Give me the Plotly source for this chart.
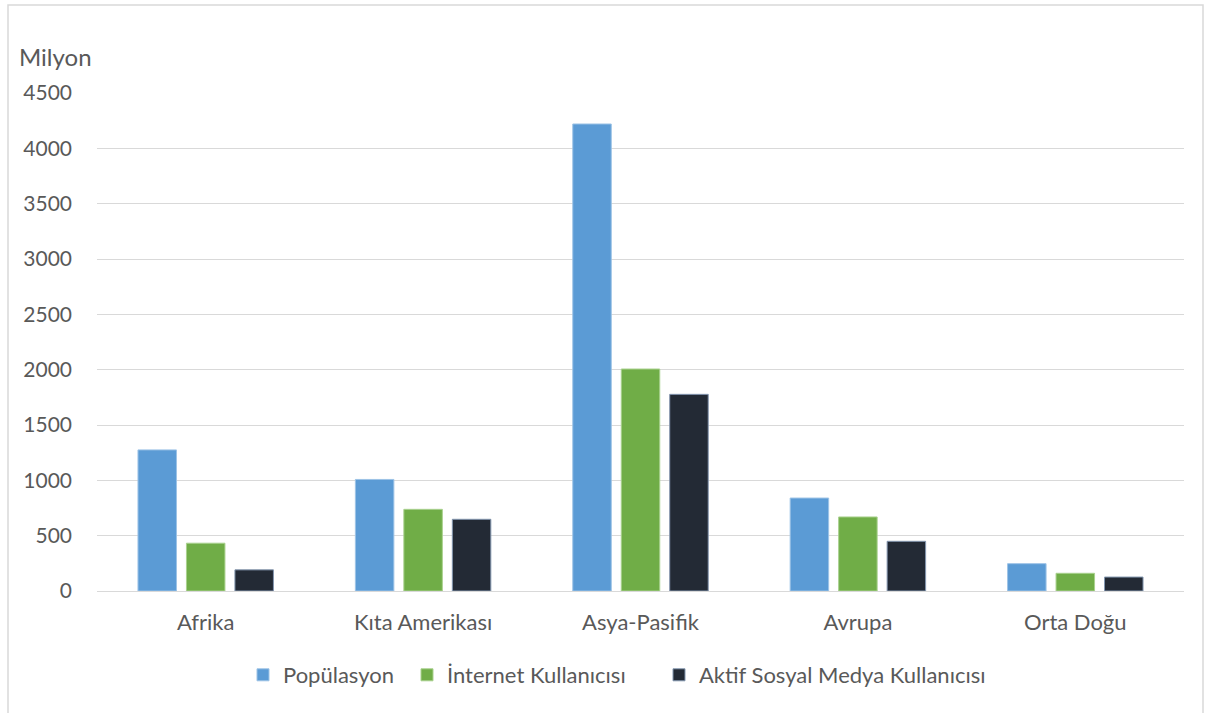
import plotly.graph_objects as go

# Bölgeler ve değerler (milyon kişi)
regions = ["Afrika", "Kıta Amerikası", "Asya-Pasifik", "Avrupa", "Orta Doğu"]
population = [1275, 1008, 4220, 840, 247]
internet_users = [432, 738, 2006, 669, 160]
social_media_users = [191, 648, 1777, 449, 126]

series_names = ["Popülasyon", "İnternet Kullanıcısı", "Aktif Sosyal Medya Kullanıcısı"]
y_ticks = [0, 500, 1000, 1500, 2000, 2500, 3000, 3500, 4000, 4500]

fill_colors = ["#5B9BD5", "#70AD47", "#232A35"]
edge_colors = ["#9DC3E6", "#A9D18E", "#8497B0"]

FONT = "Lato"
TEXT_COLOR = "#595959"

W, H = 1211, 713
L, R, T, B = 97, 27, 93, 122

pw = W - L - R
ph = H - T - B

def px_x(p):
    return (p - L) / pw

def px_y(p):
    return (H - B - p) / ph

# each series gets its own legend box so the entries can be spaced freely
legend_ids = ["legend", "legend2", "legend3"]
legend_left = [243, 407, 659]

fig = go.Figure()
for name, vals, fc, ec, lid in zip(series_names,
                                   [population, internet_users, social_media_users],
                                   fill_colors, edge_colors, legend_ids):
    fig.add_trace(go.Bar(
        x=regions, y=vals, name=name, legend=lid,
        marker=dict(color=fc, line=dict(color=ec, width=1)),
    ))

legend_layout = {}
for lid, lx in zip(legend_ids, legend_left):
    legend_layout[lid] = dict(
        orientation="h",
        x=px_x(lx), xanchor="left",
        y=px_y(675), yanchor="middle",
        font=dict(size=22, color=TEXT_COLOR),
        bgcolor="rgba(0,0,0,0)",
    )

fig.update_layout(
    width=W, height=H,
    margin=dict(l=L, r=R, t=T, b=B, pad=0),
    paper_bgcolor="white",
    plot_bgcolor="white",
    barmode="group",
    bargap=0.331,
    bargroupgap=0.206,
    font=dict(family=FONT, size=22, color=TEXT_COLOR),
    xaxis=dict(
        showgrid=False, showline=False, zeroline=False,
        ticks="", tickfont=dict(size=22, color=TEXT_COLOR),
        ticklabelstandoff=16,
    ),
    yaxis=dict(
        range=[0, 4500], tickvals=y_ticks,
        showgrid=True, gridcolor="#D9D9D9", gridwidth=1,
        zeroline=True, zerolinecolor="#D9D9D9", zerolinewidth=1,
        showline=False, ticks="",
        tickfont=dict(size=21, color=TEXT_COLOR),
        ticklabelstandoff=24,
    ),
    showlegend=True,
    annotations=[
        dict(text="Milyon", xref="paper", yref="paper",
             x=px_x(17), y=px_y(57), xanchor="left", yanchor="middle",
             showarrow=False, font=dict(size=24, color=TEXT_COLOR)),
    ],
    shapes=[
        dict(type="rect", xref="paper", yref="paper",
             x0=px_x(8), x1=px_x(1203), y0=px_y(720), y1=px_y(5),
             line=dict(color="#D9D9D9", width=1.5), fillcolor="rgba(0,0,0,0)",
             layer="below"),
    ],
    **legend_layout,
)

fig.write_html("out.html")
